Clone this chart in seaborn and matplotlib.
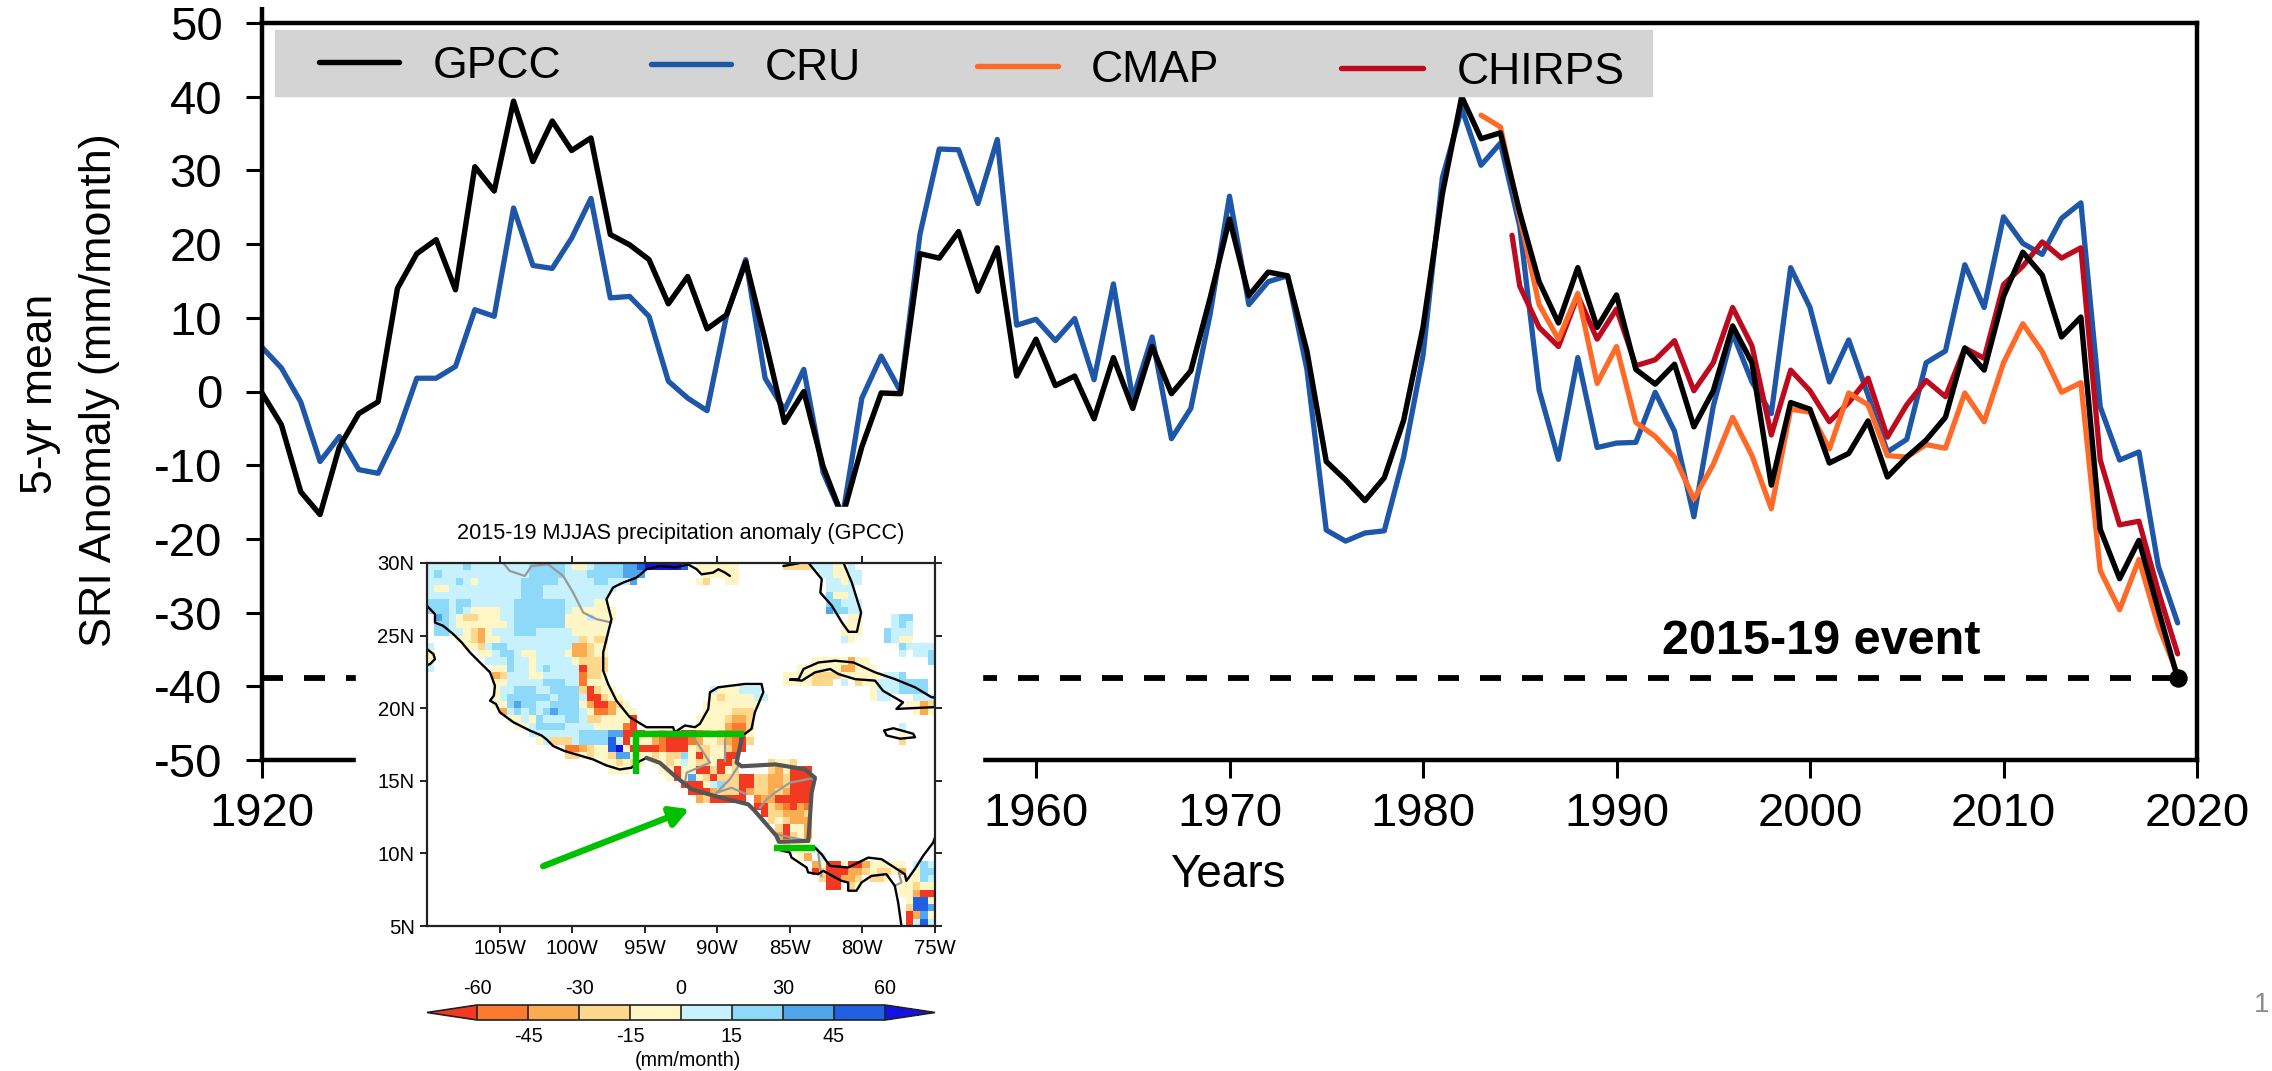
import numpy as np
import pandas as pd
import matplotlib
matplotlib.use("Agg")
import matplotlib.pyplot as plt
from matplotlib.colors import ListedColormap, BoundaryNorm
from matplotlib.lines import Line2D
from matplotlib.patches import Rectangle
import seaborn as sns

# Series (mm/month)
years = list(range(1920, 2020))
gpcc = [-0.2, -4.5, -13.6, -16.7, -7.5, -3.0, -1.4, 14.0, 18.7, 20.6,
        13.8, 30.5, 27.2, 39.4, 31.2, 36.7, 32.7, 34.4, 21.3, 19.9,
        17.9, 11.9, 15.6, 8.5, 10.4, 17.6, 7.0, -4.2, 0.0, -10.2,
        -17.0, -7.5, -0.2, -0.3, 18.7, 18.1, 21.7, 13.6, 19.5, 2.1,
        7.1, 0.8, 2.1, -3.7, 4.6, -2.3, 6.1, -0.3, 2.8, 12.7,
        23.4, 13.0, 16.2, 15.7, 5.5, -9.5, -12.0, -14.8, -11.7, -3.9,
        8.7, 26.8, 40.0, 34.3, 35.1, 24.3, 14.9, 9.3, 16.8, 8.7,
        13.1, 3.0, 1.0, 3.7, -4.8, 0.1, 8.9, 3.9, -12.7, -1.5,
        -2.4, -9.7, -8.4, -4.0, -11.6, -8.9, -6.6, -3.5, 5.9, 2.9,
        12.9, 18.9, 15.8, 7.4, 10.1, -18.7, -25.4, -20.2, -29.6, -38.9]
cru = [6.0, 3.2, -1.4, -9.5, -6.1, -10.6, -11.1, -5.7, 1.8, 1.8,
       3.4, 11.1, 10.2, 24.9, 17.1, 16.7, 20.8, 26.2, 12.7, 12.9,
       10.2, 1.4, -0.9, -2.6, 10.2, 17.9, 1.8, -2.5, 3.0, -11.0,
       -17.0, -0.9, 4.8, 0.0, 21.3, 32.9, 32.8, 25.5, 34.2, 9.0,
       9.8, 6.9, 9.9, 1.6, 14.6, -1.0, 7.4, -6.4, -2.3, 10.5,
       26.5, 11.8, 14.9, 15.7, 3.0, -18.8, -20.3, -19.2, -18.9, -8.9,
       4.9, 29.0, 38.4, 30.7, 33.7, 22.4, 0.2, -9.2, 4.6, -7.6,
       -7.0, -6.9, -0.1, -5.4, -17.0, -2.0, 7.9, 1.3, -3.0, 16.8,
       11.4, 1.3, 7.0, -0.5, -8.2, -6.5, 3.9, 5.5, 17.2, 11.4,
       23.7, 20.1, 18.6, 23.5, 25.6, -2.1, -9.3, -8.2, -23.7, -31.4]
cmap_years = list(range(1983, 2020))
cmap_vals = [37.5, 35.9, 23.7, 11.8, 7.1, 13.3, 1.1,
             6.1, -4.2, -6.1, -8.9, -14.6, -9.9, -3.5, -8.7, -15.9, -2.4,
             -2.8, -7.8, -0.2, -1.8, -8.7, -8.9, -7.2, -7.7, -0.2, -4.1,
             3.9, 9.2, 5.4, -0.1, 1.2, -24.3, -29.6, -22.8, -31.8, -38.4]
chirps_years = [1984.6] + list(range(1985, 2020))
chirps = [21.2, 14.3, 8.7, 6.1, 13.0, 7.1,
          11.2, 3.5, 4.3, 6.9, 0.1, 3.9, 11.4, 6.2, -5.9, 2.9,
          0.1, -4.1, -1.5, 1.8, -6.2, -1.8, 1.5, -0.7, 5.9, 4.5,
          14.5, 17.0, 20.3, 18.1, 19.5, -9.3, -18.1, -17.6, -27.1, -35.6]
event_x = [1920, 2019.7]
event_y = [-38.9, -38.9]

# Inset map, one letter per 0.5 degree cell, north to south. West half 110W-92.5W
map_west = [
    "fffffgffffffffgggggfeefgggghhijjjjj",
    "fgffffffffffffgggggfffggggghhh",
    "ffffgfeffffffgggggfffffggfffh",
    "feeffffffffffgggffffffffff",
    "fffffffffffffgggfffffffff",
    "gggfggffffffgggggggffffee",
    "gggfgfeeeeffgggggggfeeeeee",
    ".hgfeddeeeffgggggggeeefeee",
    ".ggfeeeeeeefgggggggeeeeee",
    ".ggffedcefffgggfffffeeeee",
    "....eedceefffffffffffdedd",
    "f....eedfggfffffffffccdee",
    "e......eefggfeeffffeccdee",
    "e.......fffgffefffffedddd",
    "f........eegffefgffffaddd",
    ".........cdfffeefffffbdde",
    ".........eefffffgggffbeee",
    ".........effgggffggggdadee",
    ".........efggggggfgggfaadee",
    ".........eeghggffggggecaacde",
    "..........cfgfgfghgggfebbceee",
    "...........eefegfffggfddeeeea",
    "............eefggggffffeeeeba",
    "..............fffffffgggghhaaaedcdc",
    "...............efdddfggggifaeeecbaa",
    "...................bbcdeeijeaaaabaa",
    "...................ddedeedhheeededd",
    "........................eedede.eede",
    ".........................eee....eea",
    ".................................ea",
] + [""] * 20
# East half 92.5W-75W
map_east = [
    "i.eeeeee......ddddfffeef",
    "...eeeee...........ffeeff",
    "..ed..ee............ffeff",
    "....................ffff",
    "....................geef",
    "....................ggfff",
    "....................hggff",
    ".......................ee....fgg",
    "......................eee....fgf",
    "......................eee...gfff",
    "......................fe....gfee",
    "..............................gffff",
    "..............................f.ffg",
    "..................eeeeecee........g",
    "................eeeeeecceee",
    "..............eeeeddddeeeeeeffg",
    "..............eeeeddd.f.deefffgggg",
    "....feeefff...............efffgggg",
    "....edeeeeff..............eff...fff",
    "...eeeeeeee....................eecd",
    "...eeeeddd......................ece",
    "..eeeedccd",
    "..eeeecbbd....................f",
    "aabcdcbbbe....................e",
    "abceedcbad....................d",
    "aeddeedba",
    "geadeeaa",
    "feddeaad....deed",
    "eeaadaed....dceaaa",
    "ehedadddaaddccdaaa",
    "aaaefgddaaddccdaaa",
    ".aaacdddacddcdcaaa",
    "..cdaaaaa.bccaaaaa",
    "..........aadcbacb",
    "...........addcccd",
    "............dedccc",
    ".............daeec",
    ".............cadec",
    ".............edeee",
    "..............eeeef",
    "................ec.f",
    "..................ceaaeaaceeeee.fgf",
    "..................adaaaccdeddec.egg",
    "...................daaccd.dde.eeegf",
    "....................aa.de.....eedee",
    "..............................eecaa",
    "...............................eiie",
    "...............................diih",
    "...............................ache",
    "...............................afif",
]
class_values = {"a": -65, "b": -52, "c": -37, "d": -22, "e": -7,
                "f": 7, "g": 22, "h": 37, "i": 52, "j": 65, ".": np.nan}
levels = [-60, -45, -30, -15, 0, 15, 30, 45, 60]
level_colors = ["#FA7A2E", "#FBAB50", "#FDD88C", "#FFF6C6",
                "#C6F1FD", "#8ED8F8", "#4FA6EC", "#2160E2"]
under_color = "#F23A22"
over_color = "#1212E6"

# Outlines in lon/lat
coast_pacific = [(-110, 27.05), (-109.45, 26.47), (-109.45, 25.9), (-108.88, 25.67),
                 (-108.19, 25.1), (-107.61, 24.53), (-107.04, 23.84), (-106.24, 23.04),
                 (-105.66, 22.47), (-105.32, 21.55), (-105.39, 20.87), (-105.66, 20.52),
                 (-105.25, 20.29), (-104.98, 19.72), (-104.06, 19.04), (-102.91, 18.46),
                 (-102.11, 18.12), (-101.76, 17.85), (-101.3, 17.39), (-100.5, 17.04),
                 (-99.7, 16.81), (-98.55, 16.47), (-97.64, 16.06), (-96.72, 15.78),
                 (-95.92, 15.9), (-95.34, 16.35), (-94.88, 16.58)]
coast_gulf = [(-92.0, 29.9), (-92.9, 29.7), (-93.96, 29.79), (-94.88, 29.57), (-95.57, 28.99),
              (-96.49, 28.65), (-97.18, 28.31), (-97.64, 27.5), (-97.29, 26.13),
              (-97.52, 25.22), (-97.86, 23.84), (-97.86, 22.58), (-97.52, 21.67),
              (-96.95, 20.52), (-96.03, 19.38), (-94.88, 18.69), (-93.05, 18.69),
              (-92.92, 18.35), (-92.23, 18.81), (-91.54, 18.69), (-91.2, 18.92),
              (-90.62, 19.95), (-90.5, 21.1), (-89.93, 21.44), (-88.1, 21.67),
              (-86.95, 21.67), (-86.83, 21.1), (-87.41, 19.72), (-87.64, 18.58),
              (-88.1, 18.23)]
coast_louisiana = [(-92.0, 29.9), (-91.42, 29.57), (-91.08, 29.22), (-90.28, 29.34),
                   (-89.93, 29.57), (-89.47, 29.34), (-89.13, 29.11)]
coast_panhandle = [(-85.45, 29.79), (-84.4, 29.98)]
coast_florida = [(-83.71, 30), (-82.8, 28.88), (-82.9, 27.96), (-82.1, 27.05),
                 (-81.41, 25.9), (-80.95, 25.26), (-80.38, 25.26), (-80.09, 26.59),
                 (-80.73, 28.65), (-81.3, 30)]
coast_cuba = [(-84.98, 21.97), (-84.4, 22.0), (-84.06, 22.7), (-83.03, 23.15),
              (-81.88, 23.27), (-80.62, 23.15), (-79.13, 22.47), (-77.75, 22.0),
              (-76.38, 21.44), (-75.23, 20.75), (-75, 20.75), (-75, 20.07), (-75.13, 20.07),
              (-77.66, 19.95), (-77.2, 20.4), (-78.58, 21.2), (-79.13, 21.9),
              (-80.5, 22.0), (-81.65, 22.35), (-82.22, 22.7), (-83.26, 22.47),
              (-84.17, 21.9), (-84.98, 21.97)]
coast_jamaica = [(-78.5, 18.46), (-77.87, 18.62), (-76.5, 18.24), (-76.38, 18.0),
                 (-77.4, 17.9), (-78.33, 18.12), (-78.5, 18.46)]
coast_baja = [(-110, 24.07), (-109.56, 23.73), (-109.45, 23.38), (-109.79, 23.04), (-110, 22.97)]
coast_pan_south = [(-85.92, 10.29), (-85.0, 10.06), (-84.89, 9.72), (-83.85, 9.03),
                   (-83.74, 8.69), (-83.05, 8.57), (-82.7, 8.8), (-81.44, 8.11),
                   (-80.98, 7.99), (-80.98, 7.43), (-80.41, 7.43), (-80.07, 7.99),
                   (-79.38, 8.45), (-78.35, 8.57), (-77.77, 7.77), (-77.54, 6.62), (-77.31, 5.0)]
coast_pan_north = [(-83.27, 10.4), (-82.81, 9.94), (-82.24, 9.14), (-80.98, 9.03),
                   (-79.6, 9.71), (-78.68, 9.6), (-77.08, 8.57), (-76.97, 8.11),
                   (-76.39, 8.92), (-75.82, 9.83), (-75.13, 10.74), (-75.0, 11.1)]
region_outline = [(-94.88, 16.58), (-93.96, 16.24), (-92.92, 15.33), (-91.77, 14.41),
                  (-90.16, 13.95), (-87.87, 13.38), (-87.41, 12.92), (-86.72, 12.12),
                  (-85.92, 11.2), (-85.75, 10.8), (-83.73, 10.86), (-83.61, 12.58),
                  (-83.5, 14.18), (-83.27, 15.21), (-83.96, 15.79), (-86.0, 16.13),
                  (-88.33, 16.0), (-88.67, 16.25), (-88.33, 17.85), (-88.25, 18.1)]
borders = [
    [(-104.75, 30), (-104.29, 29.45), (-103.26, 29.11), (-102.8, 29.79), (-101.65, 29.91),
     (-100.62, 29.11), (-99.93, 27.96), (-99.24, 26.59), (-98.32, 26.13), (-97.29, 25.9)],
    [(-91.54, 17.85), (-90.5, 16.25), (-92.11, 15.56), (-92.23, 14.87)],
    [(-88.56, 16.0), (-89.14, 15.1), (-90.05, 14.18)],
    [(-89.47, 17.85), (-89.47, 16.35)],
    [(-90.05, 14.18), (-89.02, 14.52), (-87.98, 14.07)],
    [(-87.06, 13.15), (-86.6, 13.72), (-86.03, 14.18), (-85.0, 14.87), (-83.27, 15.21)],
    [(-85.92, 11.32), (-84.89, 11.09), (-83.73, 10.86)],
    [(-83.05, 10), (-82.81, 8.4)],
    [(-77.77, 7.77), (-77.31, 8), (-77.5, 8.69)],
]
green_bracket = [(-95.6, 15.5), (-95.6, 18.2), (-88.15, 18.2)]
green_south = [(-86.1, 10.4), (-83.26, 10.4)]
arrow_tail = (-102.0, 9.12)
arrow_tip = (-91.93, 13.05)

lon_ticks = [-105, -100, -95, -90, -85, -80, -75]
lat_ticks = [30, 25, 20, 15, 10, 5]

sns.set_theme(style="ticks")
plt.rcParams["font.family"] = ["Liberation Sans", "DejaVu Sans"]
plt.rcParams["axes.unicode_minus"] = False
plt.rcParams["text.color"] = "black"
plt.rcParams["axes.labelcolor"] = "black"
plt.rcParams["xtick.color"] = "black"
plt.rcParams["ytick.color"] = "black"
plt.rcParams["axes.edgecolor"] = "black"

W, H = 2272, 1071
fig = plt.figure(figsize=(W / 100, H / 100), dpi=100, facecolor="white")


def box(left, top, right, bottom):
    # pixel box of the picture to a figure rectangle
    return [left / W, 1 - bottom / H, (right - left) / W, (bottom - top) / H]


ax = fig.add_axes(box(262, 23, 2197, 760))
sns.lineplot(x=years, y=cru, color="#1E56A8", lw=3.8, ax=ax, errorbar=None, zorder=2)
sns.lineplot(x=chirps_years, y=chirps, color="#BE0A1E", lw=3.8, ax=ax, errorbar=None, zorder=3)
sns.lineplot(x=cmap_years, y=cmap_vals, color="#FF6A28", lw=3.8, ax=ax, errorbar=None, zorder=4)
sns.lineplot(x=years, y=gpcc, color="black", lw=3.9, ax=ax, errorbar=None, zorder=5)
sns.lineplot(x=event_x, y=event_y, color="black", lw=4.2, ax=ax, errorbar=None, zorder=1,
             linestyle=(0, (3.6, 3.6)))
ax.scatter([years[-1]], [gpcc[-1]], s=150, color="black", zorder=6, clip_on=False)

ax.set_xlim(1920, 2020)
ax.set_ylim(-50, 50)
ax.set_xticks(range(1920, 2021, 10))
ax.set_yticks(range(-50, 51, 10))
ax.tick_params(axis="x", length=13, width=2.2, labelsize=34, pad=10)
ax.tick_params(axis="y", length=11.5, width=2.2, labelsize=34, pad=17)
for s in ax.spines.values():
    s.set_linewidth(3.2)
ax.vlines(1920, 50, 52.2, color="black", lw=3.2, clip_on=False)
ax.set_xlabel("")
ax.set_ylabel("")
fig.text(1228 / W, 1 - 875 / H, "Years", fontsize=33, ha="center", va="center")
fig.text(41 / W, 1 - 394 / H, "5-yr mean", fontsize=32, rotation=90, ha="center", va="center")
fig.text(100 / W, 1 - 390 / H, "SRI Anomaly (mm/month)", fontsize=32.3, rotation=90,
         ha="center", va="center")
ax.text(2000.6, -33.9, "2015-19 event", fontsize=35, fontweight="bold", ha="center",
        va="center", zorder=7)

# Hand placed legend strip
fig.add_artist(Rectangle((275 / W, 1 - 96 / H), (1652 - 275) / W, 66 / H, color="#D4D4D4",
                         transform=fig.transFigure, zorder=1))
legend_items = [("GPCC", "black", 319, 399, 62, 433), ("CRU", "#1E56A8", 651, 731, 64, 765),
                ("CMAP", "#FF6A28", 977, 1058, 66, 1091), ("CHIRPS", "#BE0A1E", 1341, 1423, 68, 1457)]
for name, col, x0, x1, y, tx in legend_items:
    fig.add_artist(Line2D([x0 / W, x1 / W], [1 - y / H, 1 - y / H], color=col, lw=3.9,
                          transform=fig.transFigure, zorder=2))
    fig.text(tx / W, 1 - (y + 4) / H, name, fontsize=32, ha="left", va="center", zorder=2)

# White sheet the inset sits on
fig.add_artist(Rectangle((356 / W, 0), (982 - 356) / W, 1 - 507 / H, color="white",
                         transform=fig.transFigure, zorder=3))
fig.text(681 / W, 1 - 533 / H, "2015-19 MJJAS precipitation anomaly (GPCC)", fontsize=15.6,
         ha="center", va="center", zorder=6)

# Map grid
rows = [(w.ljust(35, ".") + e.ljust(35, "."))[:70] for w, e in zip(map_west, map_east)]
grid = pd.DataFrame([[class_values[c] for c in row] for row in rows])

map_ax = fig.add_axes(box(427, 563, 935, 926))
map_ax.set_zorder(5)
# the colorbar keeps its triangles inside this box
cbar_ax = fig.add_axes(box(427, 1005, 935, 1020))
cbar_ax.set_zorder(5)
cmap = ListedColormap(level_colors)
cmap.set_under(under_color)
cmap.set_over(over_color)
norm = BoundaryNorm(levels, len(level_colors))
sns.heatmap(grid, cmap=cmap, norm=norm, ax=map_ax, cbar_ax=cbar_ax, xticklabels=False,
            yticklabels=False,
            cbar_kws={"orientation": "horizontal", "extend": "both", "extendfrac": 0.123,
                      "drawedges": True, "spacing": "proportional",
                      "ticks": [-45, -15, 15, 45]})


def to_cells(points):
    # lon/lat to heatmap cell coordinates
    pts = np.array(points, dtype=float)
    return (pts[:, 0] + 110) * 2, (30 - pts[:, 1]) * 2


for line in borders:
    cx, cy = to_cells(line)
    map_ax.plot(cx, cy, color="#999999", lw=1.6)
for line in [coast_pacific, coast_gulf, coast_louisiana, coast_panhandle, coast_florida,
             coast_cuba, coast_jamaica, coast_baja, coast_pan_south, coast_pan_north]:
    cx, cy = to_cells(line)
    map_ax.plot(cx, cy, color="black", lw=1.7)
cx, cy = to_cells(region_outline)
map_ax.plot(cx, cy, color="#555555", lw=3.0)
for line in [green_bracket, green_south]:
    cx, cy = to_cells(line)
    map_ax.plot(cx, cy, color="#00C000", lw=4.6, solid_capstyle="butt", solid_joinstyle="miter")
tail_x, tail_y = to_cells([arrow_tail])
tip_x, tip_y = to_cells([arrow_tip])
map_ax.annotate("", xy=(tip_x[0], tip_y[0]), xytext=(tail_x[0], tail_y[0]),
                arrowprops=dict(arrowstyle="-|>,head_length=0.9,head_width=0.5", color="#00C000",
                                lw=4.6, shrinkA=0, shrinkB=0), annotation_clip=False)

for s in map_ax.spines.values():
    s.set_visible(True)
    s.set_linewidth(1.6)
    s.set_color("#222222")
map_ax.set_xticks([(v + 110) * 2 for v in lon_ticks])
map_ax.set_xticklabels([f"{-v}W" for v in lon_ticks])
map_ax.set_yticks([(30 - v) * 2 for v in lat_ticks])
map_ax.set_yticklabels([f"{v}N" for v in lat_ticks], rotation=0)
map_ax.tick_params(length=5, width=1.4, labelsize=14.6, pad=4, top=True, right=True,
                   bottom=True, left=True, color="#222222")

# Colorbar, labels alternate under and over the boxes
cbar = map_ax.collections[0].colorbar
cbar.outline.set_linewidth(1.2)
cbar.outline.set_edgecolor("#222222")
cbar.dividers.set_color("#222222")
cbar.dividers.set_linewidth(1.2)
cbar_ax.minorticks_off()
cbar_ax.tick_params(length=0, labelsize=14.2, pad=5)
cbar_ax.set_xticklabels(["-45", "-15", "15", "45"])
for v in [-60, -30, 0, 30, 60]:
    cbar_ax.annotate(str(v), (v, 1), xycoords=("data", "axes fraction"), xytext=(0, 5),
                     textcoords="offset points", ha="center", va="bottom", fontsize=14.2)
fig.text(688 / W, 1 - 1060 / H, "(mm/month)", fontsize=14.2, ha="center", va="center", zorder=6)

# Slide number at the edge
fig.text(2262 / W, 1 - 1005 / H, "1", fontsize=20, color="#8C8C8C", ha="center", va="center")

fig.savefig("out.png", dpi=100)
